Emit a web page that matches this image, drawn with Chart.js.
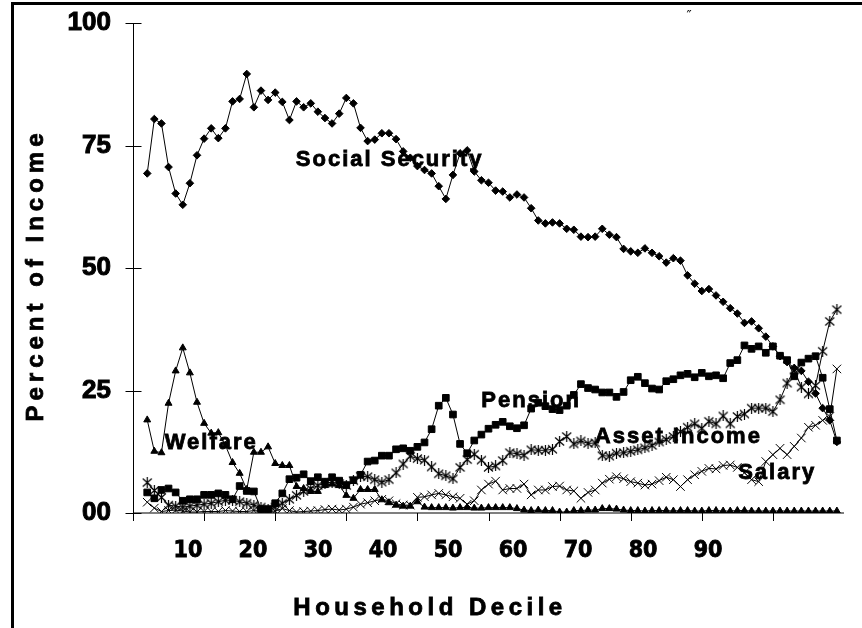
<!DOCTYPE html>
<html lang="en">
<head>
<meta charset="UTF-8">
<title>Percent of Income by Household Decile</title>
<script src="https://cdn.jsdelivr.net/npm/chart.js@4.4.1/dist/chart.umd.min.js"></script>
<style>
  html, body { margin: 0; padding: 0; background: #ffffff; }
  #wrap { position: relative; width: 862px; height: 628px; }
</style>
</head>
<body>
<div id="wrap"><canvas id="incomeChart" width="862" height="628"></canvas></div>
<script>
// --- Data (percent of income, household deciles 2..99) ---
const deciles = [
  2, 3, 4, 5, 6, 7, 8, 9, 10, 11, 12, 13, 14, 15, 16, 17, 18, 19, 20, 21,
  22, 23, 24, 25, 26, 27, 28, 29, 30, 31, 32, 33, 34, 35, 36, 37, 38, 39, 40, 41,
  42, 43, 44, 45, 46, 47, 48, 49, 50, 51, 52, 53, 54, 55, 56, 57, 58, 59, 60, 61,
  62, 63, 64, 65, 66, 67, 68, 69, 70, 71, 72, 73, 74, 75, 76, 77, 78, 79, 80, 81,
  82, 83, 84, 85, 86, 87, 88, 89, 90, 91, 92, 93, 94, 95, 96, 97, 98, 99
];

const socialSecurity = [
  69.3, 80.4, 79.5, 70.6, 65.2, 62.9, 67.3, 73.0, 76.4, 78.5, 76.5, 78.5, 84.0, 84.5, 89.6, 82.8, 86.2, 84.3, 85.8, 83.9,
  80.2, 84.0, 82.8, 83.6, 81.9, 80.6, 79.5, 81.5, 84.7, 83.6, 78.6, 75.9, 76.2, 77.5, 77.5, 76.3, 73.8, 72.5, 70.8, 70.0,
  69.3, 66.7, 64.1, 69.0, 73.4, 74.0, 69.7, 67.9, 67.4, 65.8, 65.6, 64.4, 65.0, 64.4, 62.2, 59.7, 59.1, 59.3, 59.1, 58.0,
  57.8, 56.4, 56.3, 56.4, 58.0, 56.8, 56.3, 53.9, 53.4, 53.1, 54.0, 53.1, 52.4, 51.1, 52.0, 51.5, 48.5, 46.8, 45.3, 45.7,
  44.4, 43.1, 41.8, 40.7, 38.8, 39.1, 37.7, 36.0, 34.0, 32.0, 30.8, 29.6, 29.0, 26.8, 24.4, 21.4, 18.9, 14.5
];

const pension = [
  4.2, 3.0, 4.7, 5.0, 4.2, 2.5, 2.8, 2.8, 3.7, 3.7, 4.0, 3.7, 2.8, 5.5, 4.5, 4.4, 0.8, 0.8, 2.0, 4.0,
  6.9, 7.2, 7.9, 6.5, 7.3, 6.4, 7.3, 6.6, 5.7, 6.7, 7.8, 10.5, 10.7, 11.7, 11.7, 13.0, 13.2, 12.7, 13.5, 14.4,
  17.1, 21.9, 23.5, 20.1, 14.1, 12.2, 14.8, 16.0, 17.2, 18.0, 18.6, 17.7, 17.3, 17.9, 21.3, 22.5, 21.8, 21.2, 21.0, 21.9,
  24.1, 26.3, 25.5, 25.2, 24.6, 24.6, 23.7, 24.7, 27.1, 27.8, 26.5, 25.4, 25.2, 26.9, 27.3, 28.1, 28.4, 27.7, 28.6, 27.9,
  28.1, 27.5, 30.6, 31.2, 34.2, 33.5, 34.0, 32.7, 34.0, 32.1, 31.2, 27.9, 30.7, 31.5, 32.0, 27.6, 21.2, 14.8
];

const welfare = [
  19.0, 12.6, 12.3, 22.4, 29.0, 33.7, 28.6, 22.6, 18.3, 16.3, 16.4, 13.8, 10.3, 8.1, 4.8, 12.4, 12.4, 13.5, 10.1, 9.7,
  9.7, 5.4, 5.0, 4.4, 4.4, 5.6, 5.9, 5.6, 3.6, 3.0, 4.8, 4.8, 4.8, 2.7, 2.1, 1.6, 1.4, 1.4, 2.3, 1.2,
  1.1, 1.1, 1.1, 1.0, 1.1, 1.1, 1.0, 1.0, 1.1, 1.1, 1.1, 1.1, 0.9, 0.6, 0.5, 0.6, 0.5, 0.5, 0.2, 0.2,
  0.5, 0.5, 0.6, 0.6, 0.9, 0.9, 0.8, 0.6, 0.5, 0.5, 0.4, 0.5, 0.5, 0.5, 0.4, 0.5, 0.5, 0.4, 0.4, 0.5,
  0.5, 0.4, 0.4, 0.5, 0.5, 0.4, 0.4, 0.4, 0.4, 0.4, 0.4, 0.4, 0.4, 0.4, 0.4, 0.4, 0.4, 0.4
];

const assetIncome = [
  6.2, 4.6, 3.2, 1.6, 1.4, 1.2, 1.4, 1.6, 1.8, 2.0, 2.3, 2.6, 2.6, 2.3, 2.0, 1.6, 1.2, 0.8, 1.2, 2.0,
  2.8, 3.6, 4.4, 5.0, 5.6, 6.1, 6.3, 6.0, 5.6, 6.6, 7.5, 7.4, 6.8, 6.3, 6.8, 8.2, 10.0, 11.6, 11.1, 10.8,
  9.4, 8.0, 7.6, 7.0, 9.3, 10.9, 12.0, 10.8, 9.3, 9.6, 10.7, 12.3, 12.1, 11.8, 12.9, 12.8, 12.8, 13.0, 14.6, 15.6,
  14.1, 14.7, 14.2, 14.3, 11.7, 11.6, 12.2, 12.3, 12.6, 12.9, 13.3, 13.8, 14.5, 15.0, 15.6, 16.6, 17.5, 18.2, 17.3, 18.7,
  18.2, 19.8, 18.2, 19.7, 20.2, 21.4, 21.4, 21.4, 20.7, 23.1, 26.5, 29.2, 25.7, 24.3, 26.0, 33.0, 39.1, 41.5
];

const salary = [
  2.2, 1.0, 0.3, 0.5, 0.6, 0.4, 0.2, 0.2, 0.3, 0.3, 0.3, 0.5, 0.4, 0.3, 0.3, 0.5, 0.3, 0.3, 0.4, 0.9,
  0.5, 0.2, 0.3, 0.4, 0.5, 0.7, 0.8, 0.6, 0.8, 1.2, 1.8, 2.1, 2.5, 2.8, 2.5, 1.9, 1.6, 1.6, 3.2, 3.3,
  3.7, 4.0, 3.7, 3.3, 3.0, 1.8, 2.5, 4.7, 5.9, 6.5, 4.7, 5.0, 5.0, 5.9, 3.7, 4.7, 4.7, 5.4, 5.5, 4.7,
  4.5, 3.0, 4.2, 4.7, 6.1, 6.9, 7.4, 7.0, 6.4, 6.1, 5.7, 5.9, 6.6, 7.3, 6.8, 5.4, 6.8, 7.8, 8.5, 9.1,
  9.0, 9.7, 9.8, 9.3, 8.2, 6.8, 6.4, 10.5, 11.9, 13.2, 11.9, 13.6, 15.3, 17.5, 17.9, 18.9, 19.7, 29.4
];

// tick marks every 10 deciles; the printed labels sit on their own (narrower) spacing
const xTickValues = [10, 20, 30, 40, 50, 60, 70, 80, 90];
const xTickLabels = ['10', '20', '30', '40', '50', '60', '70', '80', '90'];
const yTickValues = [0, 25, 50, 75, 100];
const yTickLabels = ['00', '25', '50', '75', '100'];

// --- Helpers ---
const toPoints = values => deciles.map((d, i) => ({ x: d, y: values[i] }));

// Excel-like star marker: an x with a vertical bar
function makeStar() {
  const c = document.createElement('canvas');
  c.width = 11; c.height = 11;
  const g = c.getContext('2d');
  g.strokeStyle = '#000';
  g.lineWidth = 1.2;
  g.beginPath();
  g.moveTo(1, 1.5); g.lineTo(10, 9.5);
  g.moveTo(10, 1.5); g.lineTo(1, 9.5);
  g.moveTo(5.5, 0); g.lineTo(5.5, 11);
  g.stroke();
  return c;
}

const boldFamily = '"Liberation Sans", Arial, sans-serif';

// heavy text: fill plus a thin outline, closer to the Arial Black look
function heavyText(ctx, t, x, y) {
  ctx.fillText(t, x, y);
  ctx.strokeText(t, x, y);
}

// Axes, frame and text drawn by hand (tick positions come from the scales)
const decorations = {
  id: 'decorations',
  beforeDraw(chart) {
    const ctx = chart.ctx;
    ctx.save();
    ctx.fillStyle = '#ffffff';
    ctx.fillRect(0, 0, chart.width, chart.height);
    ctx.fillStyle = '#000000';
    ctx.fillRect(11, 2, chart.width - 11, 3);   // top frame
    ctx.fillRect(11, 2, 3, chart.height);       // left frame
    ctx.restore();
  },
  beforeDatasetsDraw(chart) {
    const ctx = chart.ctx;
    const xs = chart.scales.x, ys = chart.scales.y;
    const x0 = Math.round(xs.getPixelForValue(0)) + 0.5;
    const xEnd = xs.getPixelForValue(100);
    const y0 = Math.round(ys.getPixelForValue(0));
    const yTop = ys.getPixelForValue(100);
    ctx.save();
    // x axis (grey)
    ctx.strokeStyle = '#7f7f7f';
    ctx.lineWidth = 2;
    ctx.beginPath();
    ctx.moveTo(x0, y0);
    ctx.lineTo(xEnd, y0);
    ctx.stroke();
    // y axis and tick marks
    ctx.strokeStyle = '#000000';
    ctx.lineWidth = 1;
    ctx.beginPath();
    ctx.moveTo(x0, yTop);
    ctx.lineTo(x0, y0 + 8);
    yTickValues.forEach(v => {
      const py = Math.round(ys.getPixelForValue(v)) + 0.5;
      ctx.moveTo(x0 - 8, py);
      ctx.lineTo(x0 + 8, py);
    });
    xTickValues.forEach(v => {
      const px = Math.round(xs.getPixelForValue(v)) + 0.5;
      ctx.moveTo(px, y0);
      ctx.lineTo(px, y0 + 8);
    });
    ctx.stroke();
    ctx.restore();
  },
  afterDatasetsDraw(chart) {
    const ctx = chart.ctx;
    const xs = chart.scales.x, ys = chart.scales.y;
    ctx.save();
    ctx.fillStyle = '#000000';
    ctx.strokeStyle = '#000000';
    ctx.lineWidth = 0.8;
    ctx.textAlign = 'center';
    ctx.textBaseline = 'middle';
    ctx.font = 'bold 22px ' + boldFamily;
    ctx.letterSpacing = '2px';
    // in-plot series labels [text, decile, percent]
    [
      ['Social Security', 36.1, 72.0],
      ['Welfare', 11.0, 14.3],
      ['Pension', 56.0, 22.9],
      ['Asset Income', 76.7, 15.5],
      ['Salary', 90.6, 8.2]
    ].forEach(([t, dx, dy]) => {
      heavyText(ctx, t, xs.getPixelForValue(dx), ys.getPixelForValue(dy));
    });
    // axis titles
    ctx.font = 'bold 24px ' + boldFamily;
    ctx.letterSpacing = '4.5px';
    heavyText(ctx, 'Household Decile', 430, 608);
    ctx.letterSpacing = '5px';
    ctx.translate(36, 275);
    ctx.rotate(-Math.PI / 2);
    heavyText(ctx, 'Percent of Income', 0, 0);
    ctx.restore();
    // stray mark near the top
    ctx.save();
    ctx.fillStyle = '#000000';
    ctx.font = '14px "DejaVu Sans", sans-serif';
    ctx.textAlign = 'center';
    ctx.textBaseline = 'middle';
    ctx.fillText('\u2033', 689, 16);
    ctx.restore();
  }
};

const baseLine = {
  borderColor: '#000000',
  backgroundColor: '#000000',
  pointBorderColor: '#000000',
  pointBackgroundColor: '#000000',
  borderWidth: 1,
  pointBorderWidth: 1,
  tension: 0,
  fill: false,
  xAxisID: 'x',
  yAxisID: 'y'
};

new Chart(document.getElementById('incomeChart'), {
  type: 'line',
  data: {
    datasets: [
      { ...baseLine, label: 'Social Security', data: toPoints(socialSecurity), pointStyle: 'rectRot', pointRadius: 3.8 },
      { ...baseLine, label: 'Pension', data: toPoints(pension), pointStyle: 'rect', pointRadius: 4.7 },
      { ...baseLine, label: 'Welfare', data: toPoints(welfare), pointStyle: 'triangle', pointRadius: 4 },
      { ...baseLine, label: 'Asset Income', data: toPoints(assetIncome), pointStyle: makeStar(), pointRadius: 5 },
      { ...baseLine, label: 'Salary', data: toPoints(salary), pointStyle: 'crossRot', pointRadius: 6 }
    ]
  },
  options: {
    responsive: false,
    animation: false,
    layout: { padding: { top: 23, right: 18, left: 0, bottom: 0 } },
    plugins: {
      legend: { display: false },
      tooltip: { enabled: false }
    },
    scales: {
      x: {
        type: 'linear',
        position: 'bottom',
        min: 0,
        max: 100,
        grid: { display: false, drawTicks: false },
        border: { display: false },
        ticks: { display: false },
        afterFit(scale) { scale.height = 0; }
      },
      xLabels: {
        type: 'linear',
        position: 'bottom',
        min: 1.54,
        max: 110.9,
        grid: { display: false, drawTicks: true, tickLength: 24 },
        border: { display: false },
        afterFit(scale) { scale.height = 115; },
        afterBuildTicks(scale) { scale.ticks = xTickValues.map(v => ({ value: v })); },
        ticks: {
          autoSkip: false,
          maxRotation: 0,
          padding: 0,
          color: '#000000',
          textStrokeColor: '#000000',
          textStrokeWidth: 0.8,
          font: { family: '"Liberation Sans Narrow", "DejaVu Sans Condensed", Arial, sans-serif', size: 23, weight: 'bold' },
          callback: (v, i) => xTickLabels[i]
        }
      },
      y: {
        min: 0,
        max: 100,
        grid: { display: false, drawTicks: true, tickLength: 22 },
        border: { display: false },
        afterFit(scale) { scale.width = 133; },
        afterBuildTicks(scale) { scale.ticks = yTickValues.map(v => ({ value: v })); },
        ticks: {
          padding: 0,
          color: '#000000',
          textStrokeColor: '#000000',
          textStrokeWidth: 1,
          font: { family: boldFamily, size: 26, weight: 'bold' },
          callback: (v, i) => yTickLabels[i]
        }
      }
    }
  },
  plugins: [decorations]
});
</script>
</body>
</html>
